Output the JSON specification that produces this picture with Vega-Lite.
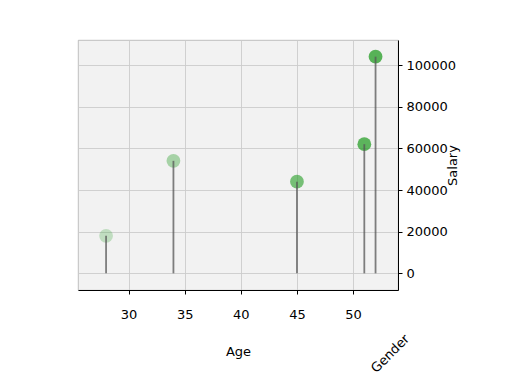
{
  "$schema": "https://vega.github.io/schema/vega-lite/v6.json",
  "width": 320,
  "height": 250,
  "autosize": {"type": "none"},
  "padding": {"left": 78, "top": 40, "right": 112, "bottom": 95},
  "background": "white",
  "title": {"text": "Gender", "orient": "bottom", "anchor": "end", "angle": -45, "fontSize": 13, "font": "DejaVu Sans", "fontWeight": "normal", "color": "black", "offset": -82, "dx": -80},
  "config": {
    "view": {"fill": "#f2f2f2", "stroke": "#b0b0b0", "strokeWidth": 0.8},
    "axis": {
      "labelFont": "DejaVu Sans", "labelFontSize": 13, "labelColor": "black",
      "titleFont": "DejaVu Sans", "titleFontSize": 13, "titleFontWeight": "normal", "titleColor": "black",
      "domainColor": "black", "domainWidth": 1, "tickColor": "black", "tickSize": 4,
      "gridColor": "#cccccc", "gridWidth": 0.9
    }
  },
  "data": {"values": [
    {"Age": 28, "Salary": 18000},
    {"Age": 34, "Salary": 54000},
    {"Age": 45, "Salary": 44000},
    {"Age": 51, "Salary": 62000},
    {"Age": 52, "Salary": 104000}
  ]},
  "encoding": {
    "x": {"field": "Age", "type": "quantitative", "scale": {"domain": [25.5, 54], "nice": false, "zero": false},
      "axis": {"values": [30, 35, 40, 45, 50], "title": "Age", "labelPadding": 14, "titlePadding": 24}},
    "y": {"field": "Salary", "type": "quantitative", "scale": {"domain": [-8000, 112000], "nice": false, "zero": false},
      "axis": {"orient": "right", "values": [0, 20000, 40000, 60000, 80000, 100000], "format": "d", "title": "Salary", "titleAngle": 270, "titlePadding": 4, "labelPadding": 4}}
  },
  "layer": [
    {
      "mark": {"type": "circle", "size": 190, "color": "#2ca02c"},
      "encoding": {
        "opacity": {"field": "Age", "type": "quantitative", "scale": {"domain": [28, 52], "range": [0.25, 0.78]}, "legend": null}
      }
    },
    {
      "mark": {"type": "rule", "color": "#555555", "opacity": 0.75, "strokeWidth": 1.8},
      "encoding": {
        "y2": {"datum": 0}
      }
    }
  ]
}
